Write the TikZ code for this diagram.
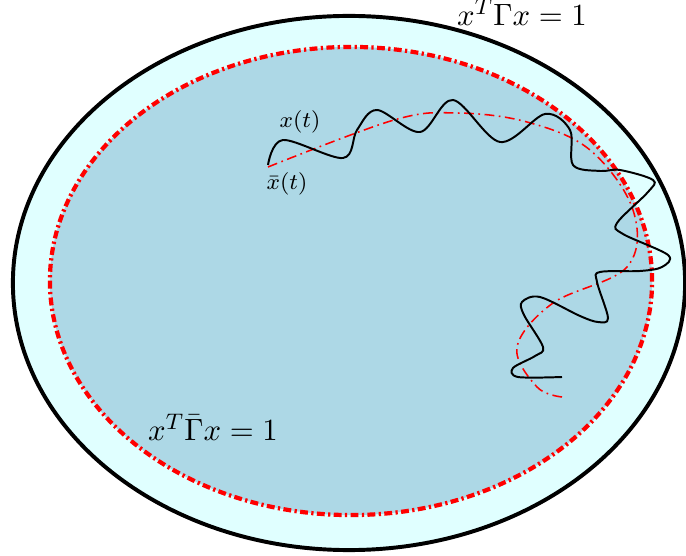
\documentclass[tikz,border=0pt]{standalone}
\usepackage{amsmath, amssymb}
\usepackage{tikz}
\usetikzlibrary{positioning}
\usepackage{xcolor}
\definecolor{setout}{HTML}{E0FFFF}
\definecolor{setin}{HTML}{ADD8E6}

\begin{document}
\begin{tikzpicture}[
          x=0.0125cm, y=-0.0125cm,
          every node/.style={font=\fontsize{11.3}{13}\selectfont},
          lbl/.style={font=\footnotesize},
          bound/.style={red,line width=1.5pt,dash pattern=on 2.8pt off 1.2pt on 0.8pt off 1.2pt},
          nominal/.style={red,line width=0.55pt,dash pattern=on 3.5pt off 1.6pt on 0.6pt off 1.6pt},
          actual/.style={black,line width=0.7pt},
        ]
        \useasboundingbox (0,0) rectangle (686,556);
        \coordinate (c0) at (349,283);
        \coordinate (c1) at (351,281);
        \filldraw[fill=setout,draw=black,line width=1.4pt] (c0) ellipse [x radius=4.2cm, y radius=3.3375cm];
        \filldraw[fill=setin,draw=none] (c1) ellipse [x radius=3.7625cm, y radius=2.925cm];
        \draw[bound] (c1) ellipse [x radius=3.7625cm, y radius=2.925cm];
        % nominal and perturbed trajectories
        \draw[nominal] plot[smooth,tension=0.6] coordinates {(268,167) (394,120) (457,113) (527,122) (590,150) (633,210) (627,267) (553,303) (517,347) (537,387) (562,397)};
        \draw[actual] plot[smooth,tension=0.55] coordinates {(268,165) (283,140) (343,158) (357,130) (377,110) (420,132) (453,100) (500,142) (545,114) (570,130) (573,165) (600,171) (620,170) (653,180) (648,192) (617,223) (623,234) (668,255) (662,267) (640,271) (600,272) (597,282) (608,318) (598,322) (580,316) (540,297) (522,302) (524,315) (543,347) (535,356) (513,368) (518,377) (562,377)};
        \node[lbl] (xt) at (300,122) {$x(t)$};
        \node[lbl] (xb) at (287,184) {$\bar{x}(t)$};
        \node (gam) at (522,12) {$x^T\Gamma x=1$};
        \node (gamb) at (213,427) {$x^T\bar{\Gamma}x=1$};
      \end{tikzpicture}
\end{document}
